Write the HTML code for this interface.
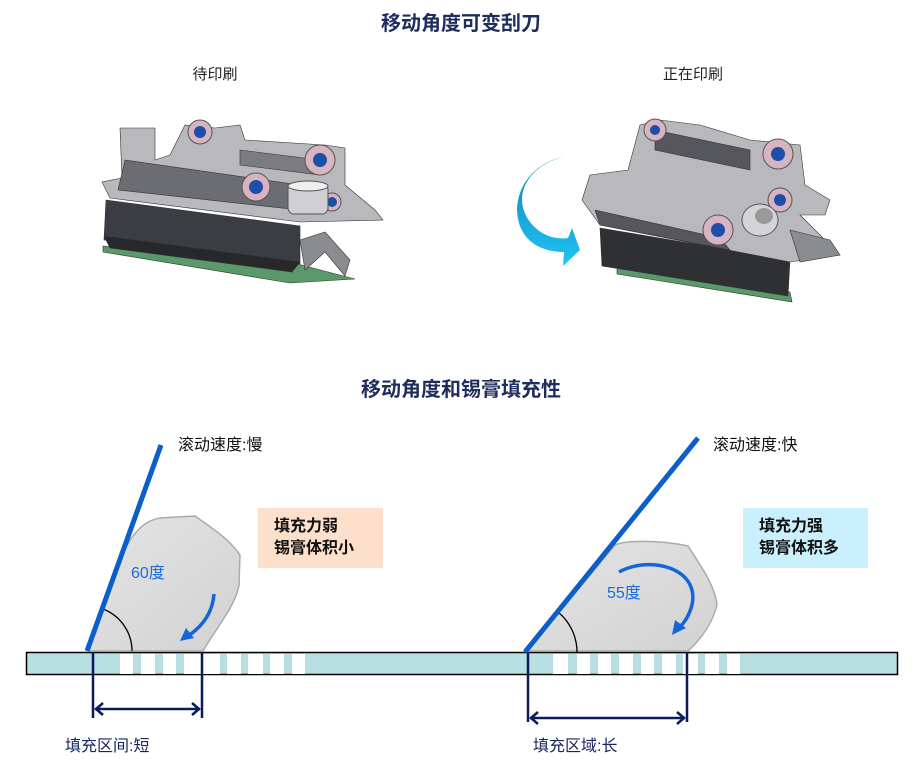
<!DOCTYPE html>
<html><head><meta charset="utf-8"><style>
body{margin:0;background:#fff;width:922px;height:780px;overflow:hidden}
svg{display:block}
text{font-family:"Liberation Sans","Noto Sans CJK SC",sans-serif}
</style></head><body>
<svg width="922" height="780" viewBox="0 0 922 780" xmlns="http://www.w3.org/2000/svg">
<defs>
<linearGradient id="blob" x1="0" y1="0" x2="1" y2="1"><stop offset="0" stop-color="#e4e4e4"/><stop offset="1" stop-color="#d2d2d2"/></linearGradient>
<linearGradient id="arr" x1="0" y1="0" x2="0" y2="1"><stop offset="0" stop-color="#0a86b8"/><stop offset="1" stop-color="#22c4f2"/></linearGradient>
</defs>
<text x="461" y="30" text-anchor="middle" font-size="20" font-weight="bold" fill="#1f2d5c">移动角度可变刮刀</text>
<text x="215" y="79" text-anchor="middle" font-size="15" fill="#222">待印刷</text>
<text x="693" y="79" text-anchor="middle" font-size="15" fill="#222">正在印刷</text>

<!-- left machine -->
<g stroke="#333" stroke-width="0.6">
<polygon points="103,246 290,262 355,279 290,283 103,252" fill="#5a9a6a"/>
<polygon points="106,200 300,226 300,264 104,240" fill="#3a3d42"/>
<polygon points="104,236 300,262 292,272 110,248" fill="#26282c"/>
<polygon points="120,128 155,128 155,160 170,155 185,125 215,128 240,125 245,140 325,145 345,148 345,185 375,210 383,220 300,222 110,198 102,182 122,178" fill="#b9b9bd"/>
<polygon points="125,160 300,185 300,210 118,190" fill="#6b6d72"/>
<polygon points="300,240 325,232 350,260 345,276 325,252 305,270" fill="#8a8c90"/>
<polygon points="240,150 320,160 320,175 240,165" fill="#7a7c80"/>
</g>
<g>
<circle cx="200" cy="132" r="12" fill="#d8b4c0" stroke="#555"/><circle cx="200" cy="132" r="6" fill="#1e4ea8"/>
<circle cx="256" cy="187" r="14" fill="#d8b4c0" stroke="#555"/><circle cx="256" cy="187" r="7" fill="#1e4ea8"/>
<circle cx="320" cy="160" r="15" fill="#d8b4c0" stroke="#555"/><circle cx="320" cy="160" r="7" fill="#1e4ea8"/>
<circle cx="332" cy="202" r="9" fill="#d8b4c0" stroke="#555"/><circle cx="332" cy="202" r="5" fill="#1e4ea8"/>
<rect x="288" y="184" width="40" height="30" rx="6" fill="#d0d0d4" stroke="#555"/>
<ellipse cx="308" cy="186" rx="20" ry="5" fill="#eee" stroke="#555"/>
</g>

<!-- right arrow -->
<path d="M563,157 C530,165 510,195 530,222 C540,235 555,240 568,238 L572,228 L580,250 L563,266 L564,252 C540,252 518,240 517,210 C518,180 540,162 563,157 Z" fill="url(#arr)"/>
<!-- right machine -->
<g stroke="#333" stroke-width="0.6">
<polygon points="617,266 790,292 792,302 617,274" fill="#5a9a6a"/>
<polygon points="600,228 790,260 788,296 602,266" fill="#2e3034"/>
<polygon points="582,200 590,175 628,170 640,125 660,120 700,125 750,140 800,145 805,185 830,200 825,215 800,215 840,255 790,262 600,225" fill="#b9b9bd"/>
<polygon points="655,130 750,150 750,170 655,150" fill="#55575c"/>
<polygon points="595,210 720,238 730,250 600,225" fill="#55575c"/>
<polygon points="790,230 830,240 840,255 800,262" fill="#8a8c90"/>
</g>
<g>
<circle cx="655" cy="130" r="11" fill="#d8b4c0" stroke="#555"/><circle cx="655" cy="130" r="5" fill="#1e4ea8"/>
<circle cx="778" cy="154" r="15" fill="#d8b4c0" stroke="#555"/><circle cx="778" cy="154" r="7" fill="#1e4ea8"/>
<circle cx="780" cy="200" r="12" fill="#d8b4c0" stroke="#555"/><circle cx="780" cy="200" r="6" fill="#1e4ea8"/>
<circle cx="718" cy="230" r="15" fill="#d8b4c0" stroke="#555"/><circle cx="718" cy="230" r="7" fill="#1e4ea8"/>
<ellipse cx="760" cy="220" rx="18" ry="16" fill="#d4d4d8" stroke="#555"/><ellipse cx="764" cy="216" rx="9" ry="8" fill="#999"/>
</g>

<text x="461" y="396" text-anchor="middle" font-size="20" font-weight="bold" fill="#1f2d5c">移动角度和锡膏填充性</text>

<!-- board -->
<rect x="26.5" y="652.5" width="871" height="22" fill="#b8dfe2" stroke="#000" stroke-width="1.5"/>
<g fill="#fff">
<rect x="120" y="654" width="13" height="20"/><rect x="141" y="654" width="14" height="20"/><rect x="163" y="654" width="13" height="20"/><rect x="184" y="654" width="36" height="20"/><rect x="227" y="654" width="14" height="20"/><rect x="248" y="654" width="15" height="20"/><rect x="270" y="654" width="14" height="20"/><rect x="292" y="654" width="13" height="20"/>
<rect x="553" y="654" width="15" height="20"/><rect x="577" y="654" width="13" height="20"/><rect x="598" y="654" width="13" height="20"/><rect x="619" y="654" width="14" height="20"/><rect x="641" y="654" width="13" height="20"/><rect x="662" y="654" width="14" height="20"/><rect x="683" y="654" width="15" height="20"/><rect x="705" y="654" width="14" height="20"/><rect x="727" y="654" width="13" height="20"/>
</g>

<!-- left diagram -->
<path d="M89,651 L112,585 C122,550 135,522 160,518 L195,516 C215,530 230,540 240,555 L239,585 C236,605 215,630 203,651 Z" fill="url(#blob)" stroke="#aaa" stroke-width="1.5"/>
<path d="M132,651 A45,45 0 0 0 103,609" fill="none" stroke="#000" stroke-width="1.3"/>
<line x1="87" y1="651" x2="161" y2="445" stroke="#0a5fc8" stroke-width="5"/>
<path d="M214,594 Q212,620 188,636" fill="none" stroke="#1565d8" stroke-width="3.5"/>
<polygon points="180,641 186,628 194,638" fill="#1565d8"/>
<text x="131" y="578" font-size="16" fill="#1a6be0">60度</text>
<text x="178" y="450" font-size="16" fill="#111">滚动速度:慢</text>
<rect x="258" y="508" width="125" height="60" fill="#fde0cc"/>
<text x="274" y="531" font-size="16" font-weight="bold" fill="#111">填充力弱</text>
<text x="274" y="553" font-size="16" font-weight="bold" fill="#111">锡膏体积小</text>
<g stroke="#0a1a5c" stroke-width="2.5" fill="none">
<line x1="93" y1="652" x2="93" y2="718"/><line x1="202" y1="652" x2="202" y2="718"/>
<line x1="95" y1="709" x2="200" y2="709"/>
<polyline points="103,703 96,709 103,715"/><polyline points="192,703 199,709 192,715"/>
</g>
<text x="65" y="751" font-size="16" fill="#1a2560">填充区间:短</text>

<!-- right diagram -->
<path d="M527,651 L615,545 C625,540 660,540 688,546 C700,565 715,585 717,605 C712,625 700,640 688,651 Z" fill="url(#blob)" stroke="#aaa" stroke-width="1.5"/>
<path d="M577,652 A52,52 0 0 0 558,612" fill="none" stroke="#000" stroke-width="1.3"/>
<line x1="525" y1="652" x2="698" y2="438" stroke="#0a5fc8" stroke-width="5"/>
<path d="M619,572 C650,555 700,568 692,605 C688,620 680,628 675,630" fill="none" stroke="#1565d8" stroke-width="3.5"/>
<polygon points="672,635 675,620 686,628" fill="#1565d8"/>
<text x="607" y="598" font-size="16" fill="#1a6be0">55度</text>
<text x="713" y="450" font-size="16" fill="#111">滚动速度:快</text>
<rect x="743" y="508" width="125" height="60" fill="#c9f0fc"/>
<text x="759" y="531" font-size="16" font-weight="bold" fill="#111">填充力强</text>
<text x="759" y="553" font-size="16" font-weight="bold" fill="#111">锡膏体积多</text>
<g stroke="#0a1a5c" stroke-width="2.5" fill="none">
<line x1="528" y1="652" x2="528" y2="722"/><line x1="687" y1="652" x2="687" y2="722"/>
<line x1="530" y1="718" x2="685" y2="718"/>
<polyline points="538,712 531,718 538,724"/><polyline points="677,712 684,718 677,724"/>
</g>
<text x="533" y="751" font-size="16" fill="#1a2560">填充区域:长</text>
</svg>
</body></html>
